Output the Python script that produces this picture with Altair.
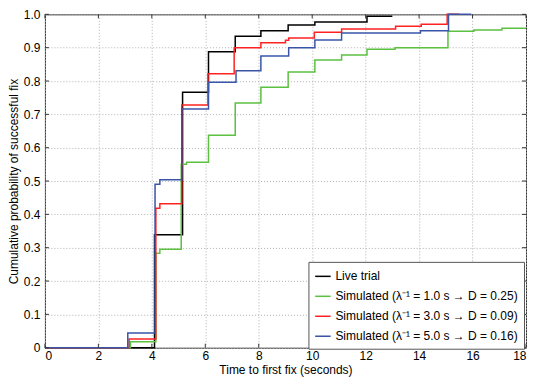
import altair as alt
import pandas as pd

# ---- data ----
series_names = [
    "Live trial",
    "Simulated (λ⁻¹ = 1.0 s → D = 0.25)",
    "Simulated (λ⁻¹ = 3.0 s → D = 0.09)",
    "Simulated (λ⁻¹ = 5.0 s → D = 0.16)",
]
series_colors = ["#000000", "#5cc040", "#ff2222", "#3a55a8"]

black_x = [0, 4.1, 5.15, 6.12, 7.12, 8.08, 9.1, 10.1, 12.05, 13.0]
black_y = [0, 0.339, 0.766, 0.888, 0.934, 0.951, 0.968, 0.977, 0.994, 0.994]

green_x = [0, 3.2, 4.15, 4.3, 5.1, 5.3, 6.12, 7.12, 8.08, 9.1, 10.1, 11.1,
           12.05, 13.1, 15.08, 16.05, 17.1, 18]
green_y = [0, 0.018, 0.283, 0.295, 0.55, 0.556, 0.637, 0.734, 0.781, 0.827,
           0.863, 0.878, 0.895, 0.9, 0.949, 0.953, 0.958, 0.958]

red_x = [0, 3.15, 4.15, 4.3, 5.12, 6.1, 7.08, 8.08, 9.0, 9.12, 10.08, 11.1,
         13.12, 14.08, 15.05, 15.5]
red_y = [0, 0.026, 0.418, 0.432, 0.728, 0.822, 0.9, 0.915, 0.922, 0.929,
         0.946, 0.956, 0.964, 0.97, 1.0, 1.0]

blue_x = [0, 3.1, 4.12, 4.3, 5.12, 6.12, 7.15, 8.08, 9.12, 10.1, 11.1,
          14.05, 15.1, 15.95]
blue_y = [0, 0.044, 0.49, 0.504, 0.716, 0.796, 0.831, 0.875, 0.9, 0.923,
          0.944, 0.951, 1.0, 1.0]

x_ticks = [0, 2, 4, 6, 8, 10, 12, 14, 16, 18]
y_ticks = [0, 0.1, 0.2, 0.3, 0.4, 0.5, 0.6, 0.7, 0.8, 0.9, 1.0]

# ---- build table ----
rows = []
for name, xs, ys in zip(series_names, [black_x, green_x, red_x, blue_x],
                        [black_y, green_y, red_y, blue_y]):
    for xv, yv in zip(xs, ys):
        rows.append({"series": name, "t": xv, "p": yv})
df = pd.DataFrame(rows)

W, H = 482, 334
FONT = "Liberation Sans"

xscale = alt.Scale(domain=[0, 18], nice=False)
yscale = alt.Scale(domain=[0, 1], nice=False)
color_scale = alt.Scale(domain=series_names, range=series_colors)

x_axis = alt.Axis(values=x_ticks, title="Time to first fix (seconds)",
                  format="d", labelOverlap=False)
y_axis = alt.Axis(values=y_ticks,
                  title="Cumulative probability of successful fix",
                  labelOverlap=False,
                  labelExpr="datum.value == 0 ? '0' : format(datum.value, '.1f')")

layers = []
for i, name in enumerate(series_names):
    layers.append(
        alt.Chart(df)
        .transform_filter(alt.datum.series == name)
        .mark_line(interpolate="step-after", strokeWidth=1.5)
        .encode(
            x=alt.X("t:Q", scale=xscale, axis=x_axis),
            y=alt.Y("p:Q", scale=yscale, axis=y_axis),
            color=alt.Color(
                "series:N", scale=color_scale, sort=series_names,
                legend=alt.Legend(
                    title=None, orient="none", legendX=264, legendY=248,
                    symbolType="stroke", symbolSize=240, symbolStrokeWidth=1.5,
                    labelFontSize=12, labelFont=FONT, labelColor="#000",
                    rowPadding=5, padding=6, fillColor="white",
                    strokeColor="#555", cornerRadius=0, labelLimit=300,
                    labelOffset=4,
                ),
            ),
        )
    )

xt = pd.DataFrame({"t": x_ticks})
yt = pd.DataFrame({"p": y_ticks})
tick_col = "#333"
bottom = alt.Chart(xt).mark_rule(color=tick_col).encode(
    x=alt.X("t:Q", scale=xscale, axis=x_axis), y=alt.value(H), y2=alt.value(H - 4))
top = alt.Chart(xt).mark_rule(color=tick_col).encode(
    x=alt.X("t:Q", scale=xscale, axis=x_axis), y=alt.value(0), y2=alt.value(4))
left = alt.Chart(yt).mark_rule(color=tick_col).encode(
    y=alt.Y("p:Q", scale=yscale, axis=y_axis), x=alt.value(0), x2=alt.value(4))
right = alt.Chart(yt).mark_rule(color=tick_col).encode(
    y=alt.Y("p:Q", scale=yscale, axis=y_axis), x=alt.value(W), x2=alt.value(W - 4))

chart = (
    alt.layer(*layers, bottom, top, left, right)
    .properties(
        width=W, height=H,
        autosize=alt.AutoSizeParams(type="none"),
        padding={"left": 37, "top": 6, "right": 6, "bottom": 32},
        background="white",
    )
    .configure_view(stroke="#333", strokeWidth=1)
    .configure_axis(
        labelFont=FONT, titleFont=FONT, labelFontSize=12, titleFontSize=12,
        titleFontWeight="normal", labelColor="#000", titleColor="#000",
        ticks=False, domain=False, grid=True, gridColor="#b0b0b0",
        gridDash=[1, 2], gridWidth=1,
    )
    .configure_axisX(labelPadding=3, titlePadding=3)
    .configure_axisY(labelPadding=5, titlePadding=3)
)

chart.save("out.html", embed_options={"renderer": "svg", "actions": False})
